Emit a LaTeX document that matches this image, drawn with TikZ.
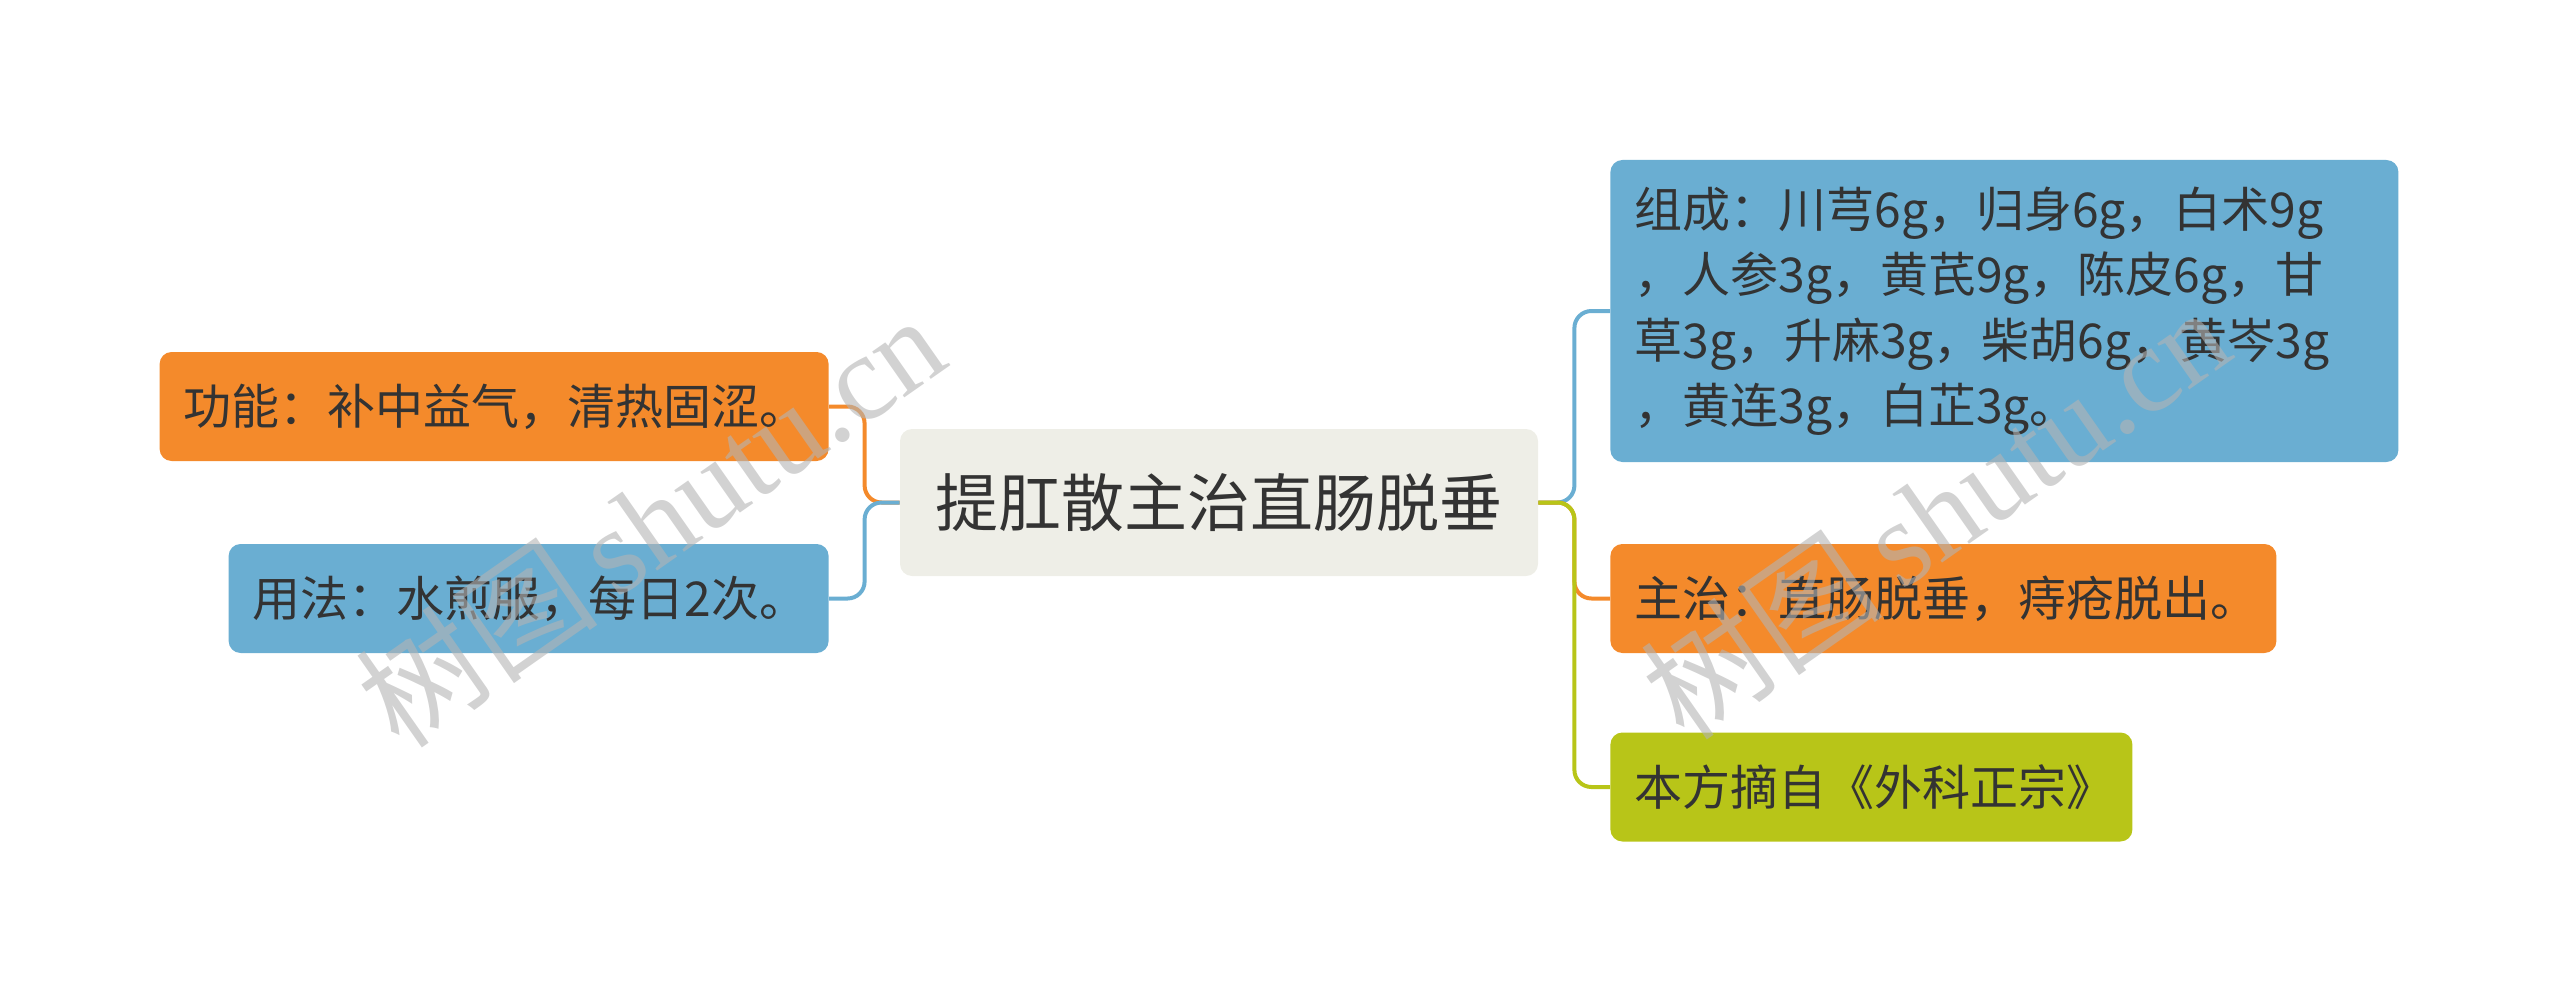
\documentclass[tikz,border=0pt]{standalone}
\usepackage{fontspec}
\setmainfont{Noto Sans CJK SC}
\newfontfamily\wmserif{Liberation Serif}
\usepackage{xcolor}
\usetikzlibrary{positioning,calc}
\definecolor{brOrange}{HTML}{F48A2B}
\definecolor{brBlue}{HTML}{6AAED2}
\definecolor{brGreen}{HTML}{B8C518}
\definecolor{hubFill}{HTML}{EEEEE7}
\definecolor{ink}{HTML}{333333}
\definecolor{wmark}{HTML}{B4B4B4}

\begin{document}
\begin{tikzpicture}[
  x=0.5pt,y=-0.5pt,
  every node/.style={text=ink},
  hubnode/.style={rounded corners=6pt,fill=hubFill,minimum width=319pt,
              minimum height=73.5pt,font=\fontsize{31.5pt}{38pt}\selectfont},
  leaf/.style={rounded corners=6pt,inner xsep=12pt,inner ysep=0pt,align=left,
              minimum height=54.5pt,font=\fontsize{24pt}{32.75pt}\selectfont},
  lnk/.style={line width=2pt},
  wm/.style={text=wmark,opacity=0.6,rotate=35,
              font=\wmserif\fontsize{61pt}{61pt}\selectfont}
]
\useasboundingbox (0,0) rectangle (2560,1006);

% Central topic
\node[hubnode] (hub) at (1219,502.5) {提肛散主治直肠脱垂};

% Left branches
\node[leaf,fill=brOrange,text width=310.5pt,anchor=east] (gong) at (829,406.5)
  {功能：补中益气，清热固涩。};
\node[leaf,fill=brBlue,text width=276pt,anchor=east] (yong) at (829,598.5)
  {用法：水煎服，每日2次。};

% Right branches
\node[leaf,fill=brBlue,text width=370pt,minimum height=151pt,anchor=west] (zucheng) at (1610,311)
  {组成：川芎6g，归身6g，白术9g\\，人参3g，黄芪9g，陈皮6g，甘\\草3g，升麻3g，柴胡6g，黄岑3g\\，黄连3g，白芷3g。};
\node[leaf,fill=brOrange,text width=309pt,anchor=west] (zhuzhi) at (1610,598.5)
  {主治：直肠脱垂，痔疮脱出。};
\node[leaf,fill=brGreen,text width=237pt,anchor=west] (chuchu) at (1610,787)
  {本方摘自《外科正宗》};

% Junctions
\coordinate (lj) at ($(hub.west)+(-35,0)$);
\coordinate (rj) at ($(hub.east)+(36,0)$);

% Connectors
\draw[lnk,brOrange,rounded corners=8.5pt] (gong.east) -| (lj) [sharp corners] -- (hub.west);
\draw[lnk,brBlue,rounded corners=8.5pt] (yong.east) -| (lj) [sharp corners] -- (hub.west);
\draw[lnk,brBlue,rounded corners=8.5pt] (zucheng.west) -| (rj) [sharp corners] -- (hub.east);
\draw[lnk,brOrange,rounded corners=8.5pt] (zhuzhi.west) -| (rj) [sharp corners] -- (hub.east);
\draw[lnk,brGreen,rounded corners=8.5pt] (chuchu.west) -| (rj) [sharp corners] -- (hub.east);

% Watermarks
\node[wm] (wmA) at (650,520) {{\rmfamily 树图}\,shutu.cn};
\node[wm] (wmB) at (1935,512) {{\rmfamily 树图}\,shutu.cn};
\end{tikzpicture}
\end{document}
